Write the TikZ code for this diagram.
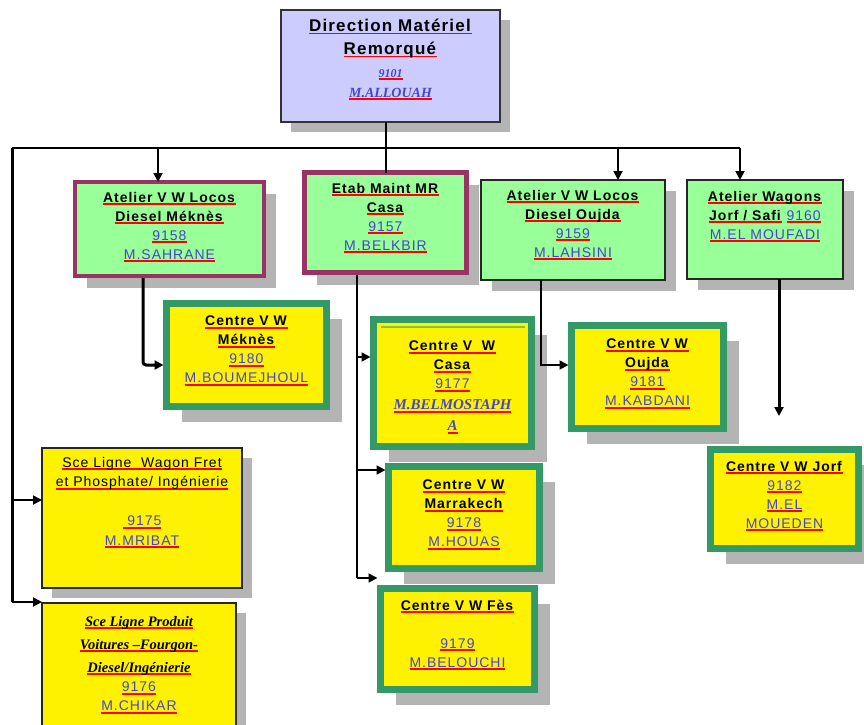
\documentclass[tikz,border=0pt]{standalone}
\usepackage{fontspec}
\setmainfont{Liberation Sans}[LetterSpace=7]
\newfontfamily\scriptf{Liberation Serif}
\usetikzlibrary{arrows.meta,shadows}
\definecolor{lav}{RGB}{204,204,255}
\definecolor{lgreen}{RGB}{153,255,153}
\definecolor{plum}{RGB}{153,51,102}
\definecolor{sea}{RGB}{51,153,102}
\definecolor{shad}{RGB}{180,180,180}
\definecolor{bl}{RGB}{70,70,200}
\newcommand\redul[1]{\setbox0=\hbox{#1}\rlap{\textcolor{red}{\rule[-2.8pt]{\wd0}{1.8pt}}}\box0\relax}
\newcommand\tl[1]{\redul{\textbf{#1}}}
\newcommand\bn[1]{\redul{\textcolor{bl}{#1}}}
\newcommand\bsi[1]{\redul{\textcolor{bl}{\scriptf\bfseries\itshape #1}}}
\tikzset{
  shd/.style={drop shadow={shadow xshift=#1, shadow yshift=-#1, fill=shad, opacity=1}},
  topbox/.style={draw=black!80, line width=1.3pt, fill=lav, inner sep=0, outer sep=0, shd=10pt},
  lvtwo/.style={draw=plum, line width=4pt, fill=lgreen, inner sep=0, outer sep=0, shd=12pt},
  lvtwothin/.style={draw=black!85, line width=1.2pt, fill=lgreen, inner sep=0, outer sep=0, shd=11pt},
  ctr/.style={draw=sea, line width=7pt, fill=yellow, inner sep=0, outer sep=0, shd=15pt},
  sce/.style={draw=black!85, line width=1.2pt, fill=yellow, inner sep=0, outer sep=0, shd=10pt},
  txt/.style={anchor=north, align=center, inner sep=0, font=\fontsize{14}{19}\selectfont},
  conn/.style={draw=black, line width=1.8pt},
  thickconn/.style={draw=black, line width=3pt},
  arr/.style={-{Triangle[length=9pt,width=9pt]}},
}
\begin{document}
\begin{tikzpicture}[x=1pt,y=-1pt]
\useasboundingbox (0,0) rectangle (864,724);
% coordinates for connectors
\coordinate (busL) at (12,148);
\coordinate (busR) at (740,148);
\coordinate (bus1) at (158,148);
\coordinate (bus3) at (618,148);
\coordinate (busM) at (386,148);
\coordinate (lft1) at (12,500);
\coordinate (lft2) at (12,602);
\coordinate (jarr) at (779,416);

% top box
\node[topbox, minimum width=219pt, minimum height=112pt] (top) at (390.5,66) {};
\node[txt, font=\fontsize{17}{23}\selectfont] (topt) at (390.5,19) {\tl{Direction Matériel}\\ \tl{Remorqué}};
\node[txt, font=\fontsize{12}{20}\selectfont] (topn) at (390.5,69) {\bsi{9101}\\ \bsi{\fontsize{14}{16}\selectfont M.ALLOUAH}};

% level 2
\node[lvtwo, minimum width=189pt, minimum height=94pt] (a1) at (169.5,229) {};
\node[txt] (a1t) at (169.5,192) {\tl{Atelier V W Locos}\\ \tl{Diesel Méknès}\\ \bn{9158}\\ \bn{M.SAHRANE}};

\node[lvtwo, line width=5pt, minimum width=162pt, minimum height=100pt] (a2) at (385.5,222.5) {};
\node[txt] (a2t) at (385.5,183) {\tl{Etab Maint MR}\\ \tl{Casa}\\ \bn{9157}\\ \bn{M.BELKBIR}};

\node[lvtwothin, minimum width=184pt, minimum height=100pt] (a3) at (573,230) {};
\node[txt] (a3t) at (573,190) {\tl{Atelier V W Locos}\\ \tl{Diesel Oujda}\\ \bn{9159}\\ \bn{M.LAHSINI}};

\node[lvtwothin, minimum width=156pt, minimum height=99pt] (a4) at (765,229.5) {};
\node[txt] (a4t) at (765,191) {\tl{Atelier Wagons}\\ \tl{Jorf / Safi} \bn{9160}\\ \bn{M.EL MOUFADI}};

% level 3 centres
\node[ctr, minimum width=160pt, minimum height=103pt] (c1) at (246.5,355) {};
\node[txt] (c1t) at (246.5,316) {\tl{Centre V W}\\ \tl{Méknès}\\ \bn{9180}\\ \bn{M.BOUMEJHOUL}};

\node[ctr, minimum width=158pt, minimum height=127pt] (c2) at (452.5,383) {};
\draw[sea!60!yellow, line width=2pt] ([xshift=7pt,yshift=-7pt]c2.north west) -- ([xshift=-7pt,yshift=-7pt]c2.north east);
\node[txt] (c2t) at (452.5,341) {\tl{Centre V\ \ W}\\ \tl{Casa}\\ \bn{9177}\\[2pt] \bsi{\fontsize{15}{20}\selectfont M.BELMOSTAPH}\\[2pt] \bsi{\fontsize{15}{20}\selectfont A}};

\node[ctr, minimum width=152pt, minimum height=103pt] (c3) at (647.5,377) {};
\node[txt] (c3t) at (647.5,339) {\tl{Centre V W}\\ \tl{Oujda}\\ \bn{9181}\\ \bn{M.KABDANI}};

\node[ctr, minimum width=151pt, minimum height=102pt] (c4) at (464,517.5) {};
\node[txt] (c4t) at (464,480) {\tl{Centre V W}\\ \tl{Marrakech}\\ \bn{9178}\\ \bn{M.HOUAS}};

\node[ctr, minimum width=154pt, minimum height=101pt] (c5) at (457.5,639) {};
\node[txt] (c5t) at (457.5,600) {\tl{Centre V W Fès}\\ \mbox{}\\ \bn{9179}\\ \bn{M.BELOUCHI}};

\node[ctr, minimum width=148pt, minimum height=99pt] (c6) at (784.5,499) {};
\node[txt] (c6t) at (784.5,461) {\tl{Centre V W Jorf}\\ \bn{9182}\\ \bn{M.EL}\\ \bn{MOUEDEN}};

% service boxes
\node[sce, minimum width=200pt, minimum height=140pt] (s1) at (142,518) {};
\node[txt, font=\fontsize{14}{19.5}\selectfont] (s1t) at (142,457) {\redul{Sce Ligne\ \ Wagon Fret}\\ \redul{et Phosphate/ Ingénierie}\\ \mbox{}\\ \bn{\ 9175}\\ \bn{M.MRIBAT}};

\node[sce, minimum width=194pt, minimum height=130pt] (s2) at (139,668) {};
\node[txt, font=\fontsize{14.5}{23}\selectfont\scriptf\bfseries\itshape] (s2t) at (139,616) {\redul{Sce Ligne Produit}\\ \redul{Voitures –Fourgon-}\\ \redul{Diesel/Ingénierie}};
\node[txt] (s2n) at (139,682) {\bn{9176}\\ \bn{M.CHIKAR}};

% connectors
\draw[conn] (busM |- top.south) -- (busM |- a2.north);
\draw[conn] (busL) -- (busR);
\draw[conn, arr] (bus1) -- (bus1 |- a1.north);
\draw[conn, arr] (bus3) -- (bus3 |- a3.north);
\draw[conn, arr] (busR) -- (busR |- a4.north);
\draw[thickconn] (busL) -- (lft2);
\draw[conn, arr] (lft1) -- (s1.west |- lft1);
\draw[conn, arr] (lft2) -- (s2.west |- lft2);

\draw[thickconn, arr, rounded corners=3pt] (143,278) -- (143,365) -- ([xshift=-3pt]c1.west |- 0,365);
\draw[conn] (357,275) -- (357,578);
\draw[conn, arr] (357,357) -- ([xshift=-3pt]c2.west |- 0,357);
\draw[conn, arr] (357,470) -- ([xshift=-3pt]c4.west |- 0,470);
\draw[conn, arr] (357,578) -- ([xshift=-3pt]c5.west |- 0,578);
\draw[conn, arr] (541,280) -- (541,365) -- ([xshift=-3pt]c3.west |- 0,365);
\draw[thickconn, arr] (a4.south -| jarr) -- (jarr);
\end{tikzpicture}
\end{document}
